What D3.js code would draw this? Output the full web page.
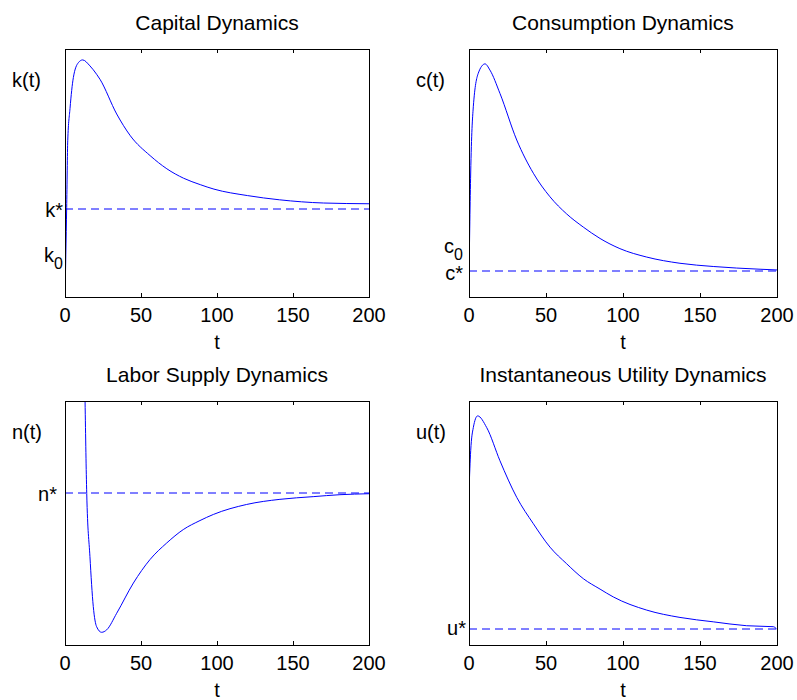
<!DOCTYPE html>
<html>
<head>
<meta charset="utf-8">
<script src="https://cdn.jsdelivr.net/npm/d3@7"></script>
<style>
  body { margin: 0; background: #fff; }
  svg { display: block; font-family: "Liberation Sans", Arial, sans-serif; }
  .frame { fill: none; stroke: #000; stroke-width: 1; }
  .tick-mark { stroke: #000; stroke-width: 1; }
  .tick-label { font-size: 20px; fill: #000; }
  .title { font-size: 21px; fill: #000; }
  .curve { fill: none; stroke: #0000ff; stroke-width: 1; }
  .steady { stroke: #0000ff; stroke-width: 1; stroke-dasharray: 8,5; }
</style>
</head>
<body>
<script>
// ---- data (values in plot units: 0 = bottom of axes, 100 = top) ----
const xTicks = [0, 50, 100, 150, 200];

const capitalT = [0, 1.1, 1.8, 3.3, 5.5, 8.8, 11.6, 16.4, 20.8, 23, 34, 43, 56, 67, 78, 89, 98, 120, 141, 170, 200];
const capitalK = [0, 36, 63, 76, 88.5, 94.5, 95.6, 93.2, 89.8, 87.8, 73.8, 65, 57, 51.7, 47.9, 45.3, 43.5, 40.9, 39.2, 37.9, 37.6];
const kStar = 35.5, kZero = 17;

const consT = [0, 1.1, 2.8, 6, 10.4, 13.6, 20.1, 31, 41.8, 52.6, 63.4, 74.2, 85.1, 98, 115.4, 137, 158.6, 189, 200];
const consC = [7.3, 50, 76.7, 90.2, 94, 91.5, 82.1, 63.3, 49.9, 40.4, 33.5, 28.2, 23.6, 19.5, 16.1, 13.6, 12.3, 11.2, 10.9];
const cStar = 10.5, cZero = 20.6;

const laborT = [0, 5, 10, 12.5, 13.2, 14.3, 16.4, 18.6, 20.8, 24.1, 27.4, 34, 45, 55.9, 66.9, 77.8, 88.8, 97.6, 119.5, 141.4, 163.3, 180.9, 200];
const laborN = [900, 500, 250, 130, 100, 62.1, 36.3, 15.8, 7.5, 5.2, 6.2, 13, 25.4, 35, 41.8, 47.3, 51, 53.5, 57.6, 59.7, 60.8, 61.6, 62];
const nStar = 62.1;

const utilT = [0, 1.1, 2.8, 5.6, 11.5, 20.1, 31, 41.8, 52.6, 63.4, 74.2, 85.1, 93.7, 115.4, 137, 158.6, 180.3, 197.6, 200];
const utilU = [63.3, 79.6, 89.1, 93.9, 89.1, 75.5, 60.5, 49.7, 40.1, 33.3, 27.2, 22.9, 19.7, 14.3, 11.3, 9.5, 7.9, 7.5, 6.4];
const uStar = 6.4;

// ---- layout ----
const panels = [
  { title: "Capital Dynamics", yLabel: "k", t: capitalT, v: capitalK, star: kStar, zero: kZero,
    left: 65, top: 49, width: 304, height: 248, starGap: 2, zeroGap: 2, starDy: 8 },
  { title: "Consumption Dynamics", yLabel: "c", t: consT, v: consC, star: cStar, zero: cZero,
    left: 469, top: 49, width: 308, height: 248, starGap: 6, zeroGap: 6, starDy: 9 },
  { title: "Labor Supply Dynamics", yLabel: "n", t: laborT, v: laborN, star: nStar, zero: null,
    left: 65, top: 401, width: 304, height: 244, starGap: 8, starDy: 8 },
  { title: "Instantaneous Utility Dynamics", yLabel: "u", t: utilT, v: utilU, star: uStar, zero: null,
    left: 469, top: 401, width: 308, height: 244, starGap: 3, starDy: 6 }
];

const svg = d3.select("body").append("svg")
  .attr("width", 797)
  .attr("height", 700);

panels.forEach((p, i) => {
  const x = d3.scaleLinear().domain([0, 200]).range([0, p.width]);
  const y = d3.scaleLinear().domain([0, 100]).range([p.height, 0]);

  const g = svg.append("g").attr("transform", `translate(${p.left},${p.top})`);

  g.append("clipPath").attr("id", `clip${i}`)
    .append("rect").attr("width", p.width).attr("height", p.height);

  // steady-state dashed line (on a pixel edge -> soft 2px blue like the original)
  const ys = Math.round(y(p.star));
  g.append("line")
    .attr("class", "steady")
    .attr("x1", x(0)).attr("x2", x(200))
    .attr("y1", ys).attr("y2", ys);

  // trajectory
  const line = d3.line()
    .x(d => x(d[0]))
    .y(d => y(d[1]))
    .curve(d3.curveMonotoneX);

  g.append("path")
    .datum(d3.zip(p.t, p.v))
    .attr("class", "curve")
    .attr("clip-path", `url(#clip${i})`)
    .attr("d", line);

  // frame + inward ticks top & bottom
  g.append("rect").attr("class", "frame")
    .attr("x", 0.5).attr("y", 0.5)
    .attr("width", p.width).attr("height", p.height);

  xTicks.forEach(t => {
    const xx = Math.round(x(t)) + 0.5;
    g.append("line").attr("class", "tick-mark")
      .attr("x1", xx).attr("x2", xx).attr("y1", p.height).attr("y2", p.height - 4);
    g.append("line").attr("class", "tick-mark")
      .attr("x1", xx).attr("x2", xx).attr("y1", 0).attr("y2", 4);
    g.append("text").attr("class", "tick-label")
      .attr("x", x(t)).attr("y", p.height + 25)
      .attr("text-anchor", "middle")
      .text(t);
  });

  g.append("text").attr("class", "tick-label")
    .attr("x", p.width / 2).attr("y", p.height + 52)
    .attr("text-anchor", "middle")
    .text("t");

  g.append("text").attr("class", "title")
    .attr("x", p.width / 2).attr("y", -19)
    .attr("text-anchor", "middle")
    .text(p.title);

  g.append("text").attr("class", "tick-label")
    .attr("x", -53).attr("y", 38)
    .text(`${p.yLabel}(t)`);

  g.append("text").attr("class", "tick-label")
    .attr("x", -p.starGap).attr("y", y(p.star) + p.starDy)
    .attr("text-anchor", "end")
    .text(`${p.yLabel}*`);

  if (p.zero !== null) {
    const z = g.append("text").attr("class", "tick-label")
      .attr("x", -p.zeroGap).attr("y", y(p.zero) + 7)
      .attr("text-anchor", "end");
    z.append("tspan").text(p.yLabel);
    z.append("tspan").attr("dy", 7).style("font-size", "16px").text("0");
  }
});
</script>
</body>
</html>
